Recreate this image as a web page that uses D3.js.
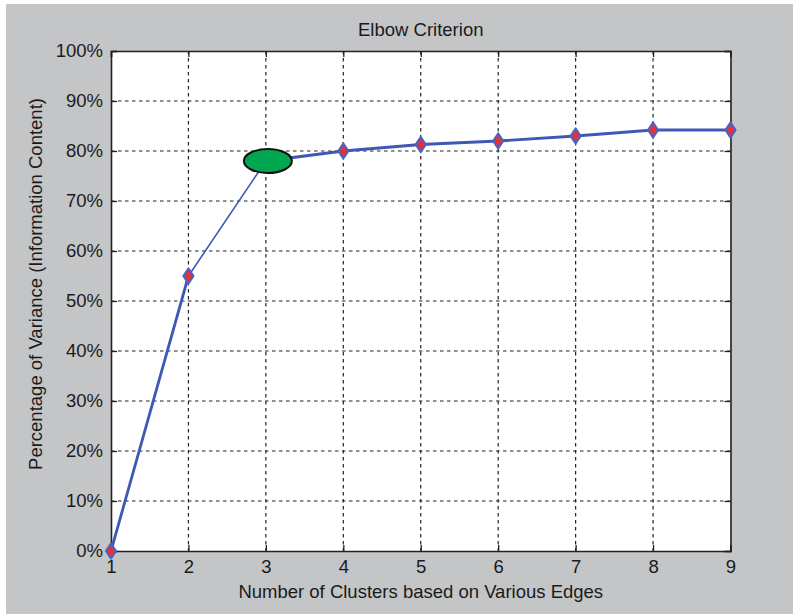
<!DOCTYPE html>
<html>
<head>
<meta charset="utf-8">
<script src="https://cdn.jsdelivr.net/npm/d3@7"></script>
<style>
  html, body { margin: 0; padding: 0; background: #ffffff; }
  svg { display: block; }
  text { font-family: "Liberation Sans", Arial, sans-serif; fill: #1a1a1a; }
</style>
</head>
<body>
<svg id="chart" width="793" height="614"></svg>
<script>
// Number of clusters and explained variance (%)
const clusters = [1, 2, 3, 4, 5, 6, 7, 8, 9];
const variance = [0, 55, 78, 80, 81.3, 82, 83, 84.2, 84.2];
const xTicks = [1, 2, 3, 4, 5, 6, 7, 8, 9];
const yTicks = [0, 10, 20, 30, 40, 50, 60, 70, 80, 90, 100];
const elbowIndex = 2; // highlighted elbow point

const svg = d3.select("#chart");
const W = 793, H = 614;
const plot = { left: 111, top: 51, right: 730.5, bottom: 551 };
const FONT = 18.5;

// figure background
svg.append("rect").attr("x", 6).attr("y", 4).attr("width", W - 6).attr("height", H - 4).attr("fill", "#c4c5c7");
svg.append("rect").attr("x", plot.left).attr("y", plot.top)
  .attr("width", plot.right - plot.left).attr("height", plot.bottom - plot.top).attr("fill", "#ffffff");

const x = d3.scaleLinear().domain([1, 9]).range([plot.left, plot.right]);
const y = d3.scaleLinear().domain([0, 100]).range([plot.bottom, plot.top]);

// dashed grid
const grid = svg.append("g").attr("stroke", "#222").attr("stroke-width", 1.2).attr("stroke-dasharray", "3.5,3.5");
grid.selectAll("line.v").data(xTicks.slice(1, -1)).join("line")
  .attr("x1", d => x(d)).attr("x2", d => x(d)).attr("y1", plot.top).attr("y2", plot.bottom);
grid.selectAll("line.h").data(yTicks.slice(1, -1)).join("line")
  .attr("x1", plot.left).attr("x2", plot.right).attr("y1", d => y(d)).attr("y2", d => y(d));

// axes with inward ticks
const fmtPct = d => d + "%";
const axB = svg.append("g").attr("transform", `translate(0,${plot.bottom})`)
  .call(d3.axisBottom(x).tickValues(xTicks).tickSize(-6).tickPadding(9).tickFormat(d3.format("d")));
const axT = svg.append("g").attr("transform", `translate(0,${plot.top})`)
  .call(d3.axisTop(x).tickValues(xTicks).tickSize(-6).tickFormat(""));
const axL = svg.append("g").attr("transform", `translate(${plot.left},0)`)
  .call(d3.axisLeft(y).tickValues(yTicks).tickSize(-6).tickPadding(8).tickFormat(fmtPct));
const axR = svg.append("g").attr("transform", `translate(${plot.right},0)`)
  .call(d3.axisRight(y).tickValues(yTicks).tickSize(-6).tickFormat(""));

[axB, axT, axL, axR].forEach(a => {
  a.select(".domain").attr("stroke", "#222").attr("stroke-width", 1.6);
  a.selectAll(".tick line").attr("stroke", "#222").attr("stroke-width", 1.3);
  a.selectAll(".tick text").attr("font-size", FONT).attr("fill", "#1a1a1a")
    .attr("font-family", "'Liberation Sans', Arial, sans-serif");
});

// series line, segment by segment
const pts = clusters.map((c, i) => [x(c), y(variance[i])]);
const segs = d3.pairs(pts.map((p, i) => ({ p, i })));
svg.append("g").selectAll("line").data(segs).join("line")
  .attr("x1", d => d[0].p[0]).attr("y1", d => d[0].p[1])
  .attr("x2", d => d[1].p[0]).attr("y2", d => d[1].p[1])
  .attr("stroke", "#3f57b5")
  .attr("stroke-width", d => (d[1].i === elbowIndex ? 1.6 : 2.8))
  .attr("stroke-linecap", "round");

// diamond markers
const diamond = (cx, cy, w, h) => `M${cx},${cy - h} L${cx + w},${cy} L${cx},${cy + h} L${cx - w},${cy} Z`;
svg.append("g").selectAll("path").data(pts.filter((_, i) => i !== elbowIndex)).join("path")
  .attr("d", d => diamond(d[0], d[1], 5, 7.5))
  .attr("fill", "#e8303a").attr("stroke", "#4a62c0").attr("stroke-width", 2.2)
  .attr("stroke-linejoin", "round");

// elbow marker
svg.append("ellipse")
  .attr("cx", pts[elbowIndex][0] + 2).attr("cy", pts[elbowIndex][1])
  .attr("rx", 24).attr("ry", 12)
  .attr("fill", "#00a650").attr("stroke", "#111").attr("stroke-width", 2);

// titles
svg.append("text").attr("x", (plot.left + plot.right) / 2).attr("y", 36)
  .attr("text-anchor", "middle").attr("font-size", FONT).text("Elbow Criterion");
svg.append("text").attr("x", (plot.left + plot.right) / 2).attr("y", 598)
  .attr("text-anchor", "middle").attr("font-size", FONT).text("Number of Clusters based on Various Edges");
svg.append("text")
  .attr("transform", `translate(42,284) rotate(-90)`)
  .attr("text-anchor", "middle").attr("font-size", FONT).text("Percentage of Variance (Information Content)");
</script>
</body>
</html>
